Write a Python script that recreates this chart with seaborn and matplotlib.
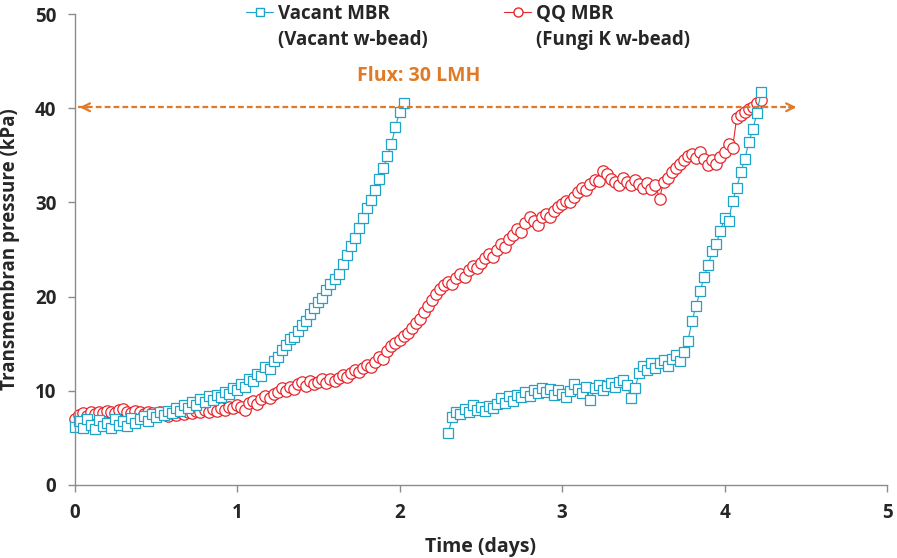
import numpy as np
import pandas as pd
import matplotlib.pyplot as plt
from matplotlib.lines import Line2D
import seaborn as sns

# readings every 0.025 day (36 min); nan = no reading (membrane cleaned)
step_days = 0.025

vacant_tmp = [
    6.2, 6.8, 6.0, 7.0, 6.4, 5.9, 6.9, 6.3, 6.6, 6.1,
    7.0, 6.4, 6.8, 6.3, 7.1, 6.6, 7.0, 7.3, 6.8, 7.5,
    7.2, 7.7, 7.4, 7.9, 7.6, 8.2, 7.9, 8.5, 8.2, 8.8,
    8.5, 9.1, 8.8, 9.4, 9.0, 9.6, 9.3, 9.9, 9.7, 10.3,
    10.1, 10.7, 10.4, 11.2, 11.0, 11.8, 11.6, 12.5, 12.3, 13.2,
    13.6, 14.3, 14.9, 15.5, 15.7, 16.4, 17.0, 17.4, 18.2, 18.8,
    19.4, 19.9, 20.7, 21.3, 21.9, 22.4, 23.5, 24.4, 25.4, 26.2,
    27.3, 28.3, 29.4, 30.3, 31.3, 32.5, 33.6, 34.9, 36.2, 38.0,
    39.6, 40.6,
    np.nan, np.nan, np.nan, np.nan, np.nan, np.nan, np.nan, np.nan, np.nan, np.nan,
    5.5, 7.2, 7.7, 7.5, 8.1, 7.8, 8.5, 8.0, 8.3, 7.9,
    8.4, 8.2, 8.6, 9.2, 8.7, 9.4, 8.9, 9.6, 9.3, 9.9,
    9.5, 10.1, 9.8, 10.3, 9.9, 10.2, 9.6, 10.1, 9.7, 9.3,
    10.0, 10.7, 10.2, 9.8, 10.4, 9.0, 10.3, 10.6, 10.1, 10.5,
    10.8, 10.4, 10.9, 11.1, 10.6, 9.2, 10.3, 11.9, 12.6, 12.2,
    13.0, 12.4, 12.9, 13.3, 12.6, 13.4, 13.8, 13.2, 14.1, 15.3,
    17.4, 19.0, 20.6, 22.1, 23.4, 24.8, 25.6, 27.0, 28.3, 28.0,
    30.2, 31.5, 33.2, 34.6, 36.4, 37.8, 39.5, 41.7,
]

qq_tmp = [
    7.0, 7.4, 7.6, 7.3, 7.7, 7.5, 7.8, 7.6, 7.9, 7.7,
    7.6, 8.0, 8.1, 7.8, 7.6, 7.9, 7.7, 7.5, 7.8, 7.6,
    7.4, 7.7, 7.5, 7.3, 7.6, 7.4, 7.7, 7.5, 7.8, 7.6,
    7.9, 7.7, 8.0, 7.8, 8.1, 7.9, 8.2, 8.0, 8.3, 8.2,
    8.5, 8.3, 8.0, 8.7, 8.9, 8.6, 9.1, 9.4, 9.2, 9.7,
    9.9, 10.3, 10.0, 10.4, 10.2, 10.7, 10.9, 10.5, 11.0, 10.7,
    10.9, 11.2, 10.8, 11.3, 11.0, 11.4, 11.7, 11.5, 11.9, 12.2,
    12.0, 12.4, 12.7, 12.5, 13.1, 13.6, 13.4, 14.2, 14.8, 15.1,
    15.4, 15.8, 16.1, 16.7, 17.2, 17.6, 18.4, 19.0, 19.6, 20.3,
    20.8, 21.2, 21.6, 21.3, 22.0, 22.4, 22.1, 22.8, 23.2, 23.0,
    23.6, 24.1, 24.5, 24.2, 25.0, 25.6, 25.3, 26.1, 26.5, 27.2,
    26.9, 27.8, 28.5, 28.0, 27.6, 28.4, 28.8, 28.5, 29.1, 29.5,
    29.8, 30.2, 30.0, 30.6, 31.1, 31.5, 31.3, 32.0, 32.4, 32.3,
    33.3, 33.0, 32.5, 32.2, 31.9, 32.6, 32.2, 31.8, 32.4, 32.0,
    31.5, 32.1, 31.4, 31.8, 30.4, 32.2, 32.6, 33.2, 33.6, 34.1,
    34.5, 34.9, 35.1, 34.7, 35.4, 34.6, 34.0, 34.5, 34.1, 34.8,
    35.4, 36.2, 35.8, 39.0, 39.3, 39.6, 39.9, 40.1, 40.5, 40.9,
]

series_labels = ["Vacant MBR", "QQ MBR"]
series_notes = ["(Vacant w-bead)", "(Fungi K w-bead)"]
flux_label = "Flux: 30 LMH"
flux_tmp = 40.1

blue = "#1fa3c8"
red = "#e8262c"
orange = "#e07a26"


def build_frame(values, name):
    df = pd.DataFrame({"time": np.arange(len(values)) * step_days, "tmp": values})
    # a new run starts after every gap
    df["run"] = df["tmp"].isna().cumsum()
    df["series"] = name
    return df.dropna()


vacant_df = build_frame(vacant_tmp, series_labels[0])
qq_df = build_frame(qq_tmp, series_labels[1])

sns.set_theme(style="ticks")
plt.rcParams["font.family"] = ["Open Sans", "DejaVu Sans"]
plt.rcParams["font.weight"] = "bold"

fig = plt.figure(figsize=(8.97, 5.58), dpi=100)
ax = fig.add_axes([74.5 / 897, 73 / 558, 812.5 / 897, 471 / 558])

sns.lineplot(data=qq_df, x="time", y="tmp", units="run", estimator=None,
             color=red, lw=0.8, marker="o", markersize=8.2,
             markerfacecolor="white", markeredgecolor=red, markeredgewidth=0.9,
             clip_on=False, ax=ax, legend=False)
sns.lineplot(data=vacant_df, x="time", y="tmp", units="run", estimator=None,
             color=blue, lw=0.8, marker="s", markersize=7.4,
             markerfacecolor="white", markeredgecolor=blue, markeredgewidth=0.9,
             clip_on=False, ax=ax, legend=False)

# flux line with arrow heads at both ends
ax.plot([0.02, 4.45], [flux_tmp, flux_tmp], color=orange, lw=1.6,
        dashes=(2.6, 1.4), zorder=5)
ax.annotate("", xy=(0.015, flux_tmp), xytext=(0.1, flux_tmp),
            arrowprops=dict(arrowstyle="->", color=orange, lw=1.6,
                            mutation_scale=14))
ax.annotate("", xy=(4.46, flux_tmp), xytext=(4.38, flux_tmp),
            arrowprops=dict(arrowstyle="->", color=orange, lw=1.6,
                            mutation_scale=14))
ax.text(2.12, 43.4, flux_label, color=orange, fontsize=14, fontweight="bold",
        ha="center", va="center")

ax.set_xlim(0, 5)
ax.set_ylim(0, 50)
ax.set_xticks(range(0, 6))
ax.set_yticks(range(0, 51, 10))
ax.set_xlabel("Time (days)", fontsize=14, fontweight="bold", labelpad=10)
ax.set_ylabel("Transmembran pressure (kPa)", fontsize=13.5, fontweight="bold",
              labelpad=11)
ax.tick_params(direction="out", length=5, width=1, color="#8c8c8c",
               labelsize=13.5, pad=8)
for lab in ax.get_xticklabels() + ax.get_yticklabels():
    lab.set_fontweight("bold")
sns.despine(ax=ax)
for side in ["left", "bottom"]:
    ax.spines[side].set_color("#8c8c8c")
    ax.spines[side].set_linewidth(1)

handles = [
    Line2D([], [], color=blue, lw=0.8, marker="s", markersize=6,
           markerfacecolor="white", markeredgecolor=blue),
    Line2D([], [], color=red, lw=0.8, marker="o", markersize=6.5,
           markerfacecolor="white", markeredgecolor=red),
]
leg = fig.legend(handles, series_labels, loc="upper left",
                 bbox_to_anchor=(246 / 897, 1 - 4 / 558), ncol=2, frameon=False,
                 borderpad=0, borderaxespad=0, handlelength=1.45,
                 handletextpad=0.25, columnspacing=6.1,
                 prop={"size": 13.5, "weight": "bold"})

# second line of each legend entry, placed under the entry text
fig.canvas.draw()
for txt, note in zip(leg.get_texts(), series_notes):
    bb = txt.get_window_extent()
    fig.text(bb.x0 / fig.bbox.width, (bb.y0 - 6) / fig.bbox.height, note,
             ha="left", va="top", fontsize=13.5, fontweight="bold")

fig.savefig("out.png", dpi=100)
